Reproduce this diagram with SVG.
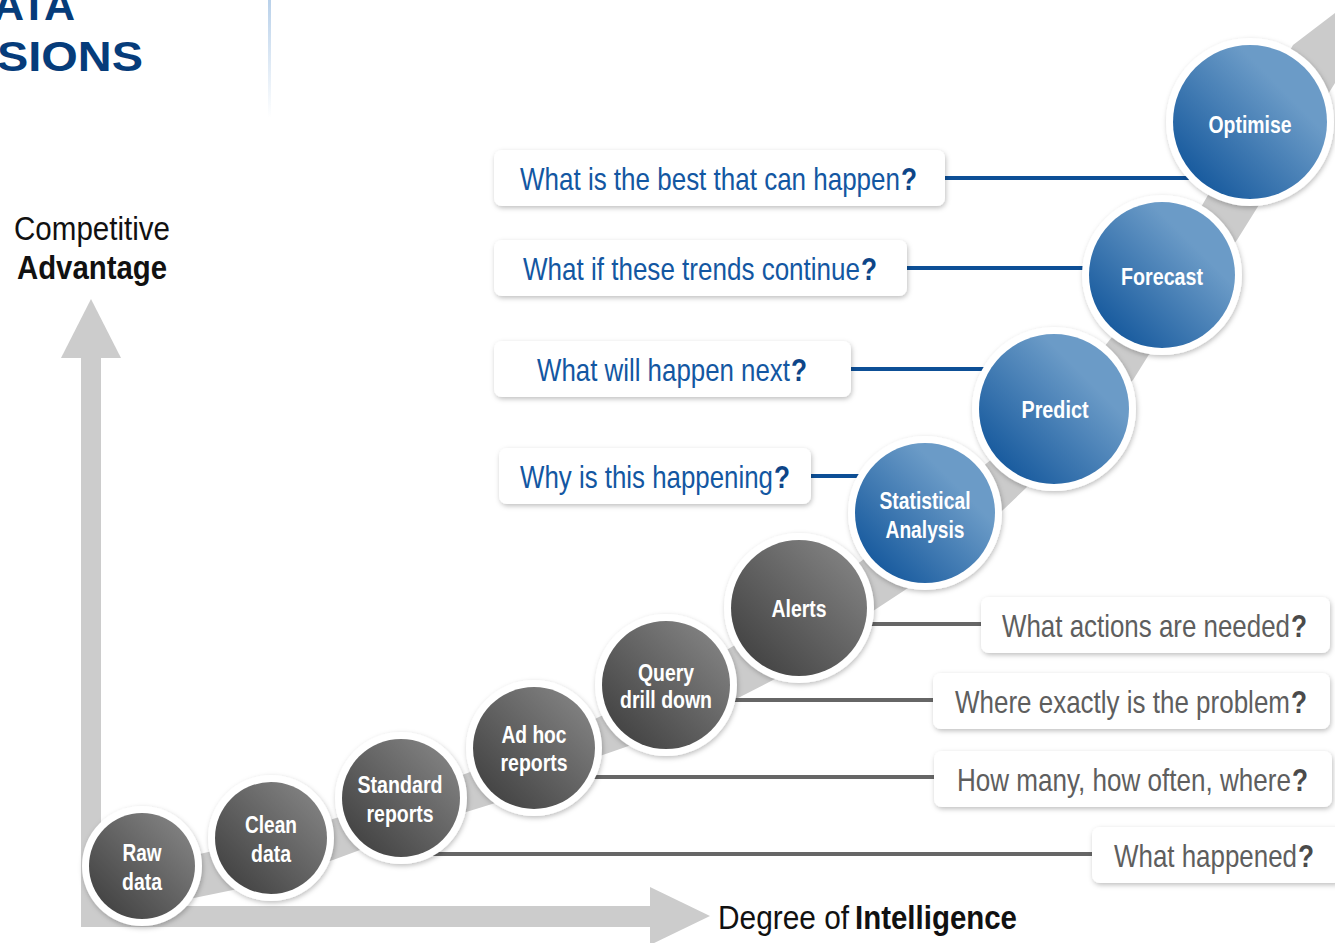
<svg xmlns="http://www.w3.org/2000/svg" width="1335" height="943" viewBox="0 0 1335 943">
<defs>
<linearGradient id="gDark" x1="0.15" y1="0.85" x2="0.85" y2="0.15">
<stop offset="0" stop-color="#464646"/>
<stop offset="1" stop-color="#7e7e7e"/>
</linearGradient>
<linearGradient id="gBlue" x1="0.15" y1="0.85" x2="0.85" y2="0.15">
<stop offset="0" stop-color="#1a5c9f"/>
<stop offset="0.8" stop-color="#6b9bc7"/>
<stop offset="1" stop-color="#6b9bc7"/>
</linearGradient>
<linearGradient id="gDiv" x1="0" y1="0" x2="0" y2="1">
<stop offset="0" stop-color="#b9d1ea"/>
<stop offset="1" stop-color="#ffffff"/>
</linearGradient>
<filter id="sh" x="-20%" y="-20%" width="140%" height="140%">
<feDropShadow dx="1" dy="2" stdDeviation="2.5" flood-color="#000" flood-opacity="0.25"/>
</filter>
<style>
.ring{fill:#fff;filter:url(#sh)}
.dk{fill:url(#gDark)}
.bl{fill:url(#gBlue)}
.ct{font-family:"Liberation Sans",Arial,sans-serif;font-weight:bold;font-size:23px;fill:#fff;text-anchor:middle}
.box{fill:#fff;filter:url(#sh)}
.q{font-family:"Liberation Sans",Arial,sans-serif;font-size:32px}
.qb{fill:#1357a2}
.qg{fill:#5e5e5e}
.qmb{font-weight:bold;fill:#0d4588;text-anchor:end}
.qmg{font-weight:bold;fill:#4a4a4a;text-anchor:end}
.lb{stroke:#0d4f96;stroke-width:4}
.lg{stroke:#666;stroke-width:4}
.ax{fill:#cccccc}
.axt{font-family:"Liberation Sans",Arial,sans-serif;font-size:33px;fill:#111}
</style>
</defs>

<g id="title">
<text x="75" y="20" text-anchor="end" font-family="'Liberation Sans',Arial,sans-serif" font-weight="bold" font-size="43" fill="#063c7a">ATA</text>
<text x="143" y="71" text-anchor="end" font-family="'Liberation Sans',Arial,sans-serif" font-weight="bold" font-size="43" fill="#063c7a" textLength="146" lengthAdjust="spacingAndGlyphs">SIONS</text>
<rect x="268" y="0" width="3" height="118" fill="url(#gDiv)"/>
</g>

<g id="axes">
<rect class="ax" x="81" y="356" width="20" height="571"/>
<polygon class="ax" points="61,358 91,299 121,358"/>
<rect class="ax" x="81" y="906" width="571" height="21"/>
<polygon class="ax" points="650,887 710,916 650,945"/>
<text class="axt" transform="translate(14,240) scale(0.88,1)" textLength="177.3" lengthAdjust="spacingAndGlyphs">Competitive</text>
<text class="axt" transform="translate(17,279) scale(0.88,1)" font-weight="bold" textLength="170.5" lengthAdjust="spacingAndGlyphs">Advantage</text>
<text class="axt" transform="translate(718,929) scale(0.88,1)" textLength="148.9" lengthAdjust="spacingAndGlyphs">Degree of</text>
<text class="axt" transform="translate(855,929) scale(0.88,1)" font-weight="bold" textLength="184.1" lengthAdjust="spacingAndGlyphs">Intelligence</text>
</g>

<g id="band">
<polygon fill="#cbcbcb" points="150,907 233,890 333,860 360,850 463,813 505,800 597,757 640,742 740,697 773,680 870,613 905,590 1003,510 1027,487 1133,380 1153,348 1237,240 1257,208 1335,83 1335,13 1293,45 1250,122 1162,275 1054,409 925,513 799,608 666,685 534,748 401,798 271,838 142,867"/>
</g>

<g id="connectors">
<line class="lb" x1="945" y1="178" x2="1250" y2="178"/>
<line class="lb" x1="907" y1="268" x2="1162" y2="268"/>
<line class="lb" x1="851" y1="369" x2="1054" y2="369"/>
<line class="lb" x1="811" y1="476" x2="925" y2="476"/>
<line class="lg" x1="799" y1="624" x2="981" y2="624"/>
<line class="lg" x1="666" y1="700" x2="933" y2="700"/>
<line class="lg" x1="534" y1="777" x2="934" y2="777"/>
<line class="lg" x1="401" y1="854" x2="1092" y2="854"/>
</g>

<g id="node-raw-data">
<circle class="ring" cx="142" cy="866" r="60"/>
<circle class="dk" cx="142" cy="866" r="53"/>
<text class="ct" transform="translate(142,861) scale(0.84,1)" textLength="46.4" lengthAdjust="spacingAndGlyphs">Raw</text>
<text class="ct" transform="translate(142,890) scale(0.84,1)" textLength="47.6" lengthAdjust="spacingAndGlyphs">data</text>
</g>
<g id="node-clean-data">
<circle class="ring" cx="271" cy="838" r="63"/>
<circle class="dk" cx="271" cy="838" r="56"/>
<text class="ct" transform="translate(271,833) scale(0.84,1)" textLength="61.9" lengthAdjust="spacingAndGlyphs">Clean</text>
<text class="ct" transform="translate(271,862) scale(0.84,1)" textLength="47.6" lengthAdjust="spacingAndGlyphs">data</text>
</g>
<g id="node-standard-reports">
<circle class="ring" cx="401" cy="798" r="66"/>
<circle class="dk" cx="401" cy="798" r="59"/>
<text class="ct" transform="translate(400,793) scale(0.84,1)" textLength="101.2" lengthAdjust="spacingAndGlyphs">Standard</text>
<text class="ct" transform="translate(400,822) scale(0.84,1)" textLength="79.8" lengthAdjust="spacingAndGlyphs">reports</text>
</g>
<g id="node-ad-hoc-reports">
<circle class="ring" cx="534" cy="748" r="68"/>
<circle class="dk" cx="534" cy="748" r="61"/>
<text class="ct" transform="translate(534,743) scale(0.84,1)" textLength="77.4" lengthAdjust="spacingAndGlyphs">Ad hoc</text>
<text class="ct" transform="translate(534,771) scale(0.84,1)" textLength="79.8" lengthAdjust="spacingAndGlyphs">reports</text>
</g>
<g id="node-query-drill-down">
<circle class="ring" cx="666" cy="685" r="71"/>
<circle class="dk" cx="666" cy="685" r="64"/>
<text class="ct" transform="translate(666,681) scale(0.84,1)" textLength="66.7" lengthAdjust="spacingAndGlyphs">Query</text>
<text class="ct" transform="translate(666,708) scale(0.84,1)" textLength="109.5" lengthAdjust="spacingAndGlyphs">drill down</text>
</g>
<g id="node-alerts">
<circle class="ring" cx="799" cy="608" r="75"/>
<circle class="dk" cx="799" cy="608" r="68"/>
<text class="ct" transform="translate(799,617) scale(0.84,1)" textLength="65.5" lengthAdjust="spacingAndGlyphs">Alerts</text>
</g>
<g id="node-statistical-analysis">
<circle class="ring" cx="925" cy="513" r="77"/>
<circle class="bl" cx="925" cy="513" r="70"/>
<text class="ct" transform="translate(925,509) scale(0.84,1)" textLength="108.3" lengthAdjust="spacingAndGlyphs">Statistical</text>
<text class="ct" transform="translate(925,538) scale(0.84,1)" textLength="94" lengthAdjust="spacingAndGlyphs">Analysis</text>
</g>
<g id="node-predict">
<circle class="ring" cx="1054" cy="409" r="82"/>
<circle class="bl" cx="1054" cy="409" r="75"/>
<text class="ct" transform="translate(1055,418) scale(0.84,1)" textLength="79.8" lengthAdjust="spacingAndGlyphs">Predict</text>
</g>
<g id="node-forecast">
<circle class="ring" cx="1162" cy="275" r="80"/>
<circle class="bl" cx="1162" cy="275" r="73"/>
<text class="ct" transform="translate(1162,285) scale(0.84,1)" textLength="97.6" lengthAdjust="spacingAndGlyphs">Forecast</text>
</g>
<g id="node-optimise">
<circle class="ring" cx="1250" cy="122" r="84"/>
<circle class="bl" cx="1250" cy="122" r="77"/>
<text class="ct" transform="translate(1250,133) scale(0.84,1)" textLength="98.8" lengthAdjust="spacingAndGlyphs">Optimise</text>
</g>

<g id="q-best">
<rect class="box" x="494" y="150" width="451" height="56" rx="8"/>
<text class="q qb" transform="translate(520,190) scale(0.82,1)" textLength="463.4" lengthAdjust="spacingAndGlyphs">What is the best that can happen</text>
<text class="q qmb" transform="translate(917,190) scale(0.82,1)">?</text>
</g>
<g id="q-trends">
<rect class="box" x="494" y="240" width="413" height="56" rx="8"/>
<text class="q qb" transform="translate(523,280) scale(0.82,1)" textLength="411" lengthAdjust="spacingAndGlyphs">What if these trends continue</text>
<text class="q qmb" transform="translate(877,280) scale(0.82,1)">?</text>
</g>
<g id="q-next">
<rect class="box" x="494" y="341" width="357" height="56" rx="8"/>
<text class="q qb" transform="translate(537,381) scale(0.82,1)" textLength="308.5" lengthAdjust="spacingAndGlyphs">What will happen next</text>
<text class="q qmb" transform="translate(807,381) scale(0.82,1)">?</text>
</g>
<g id="q-why">
<rect class="box" x="499" y="448" width="312" height="56" rx="8"/>
<text class="q qb" transform="translate(520,488) scale(0.82,1)" textLength="308.5" lengthAdjust="spacingAndGlyphs">Why is this happening</text>
<text class="q qmb" transform="translate(790,488) scale(0.82,1)">?</text>
</g>
<g id="q-actions">
<rect class="box" x="981" y="597" width="349" height="56" rx="8"/>
<text class="q qg" transform="translate(1002,637) scale(0.82,1)" textLength="351.2" lengthAdjust="spacingAndGlyphs">What actions are needed</text>
<text class="q qmg" transform="translate(1307,637) scale(0.82,1)">?</text>
</g>
<g id="q-where">
<rect class="box" x="933" y="673" width="397" height="56" rx="8"/>
<text class="q qg" transform="translate(955,713) scale(0.82,1)" textLength="408.5" lengthAdjust="spacingAndGlyphs">Where exactly is the problem</text>
<text class="q qmg" transform="translate(1307,713) scale(0.82,1)">?</text>
</g>
<g id="q-howmany">
<rect class="box" x="934" y="751" width="398" height="56" rx="8"/>
<text class="q qg" transform="translate(957,791) scale(0.82,1)" textLength="407.3" lengthAdjust="spacingAndGlyphs">How many, how often, where</text>
<text class="q qmg" transform="translate(1308,791) scale(0.82,1)">?</text>
</g>
<g id="q-happened">
<rect class="box" x="1092" y="827" width="250" height="56" rx="8"/>
<text class="q qg" transform="translate(1114,867) scale(0.82,1)" textLength="223.2" lengthAdjust="spacingAndGlyphs">What happened</text>
<text class="q qmg" transform="translate(1314,867) scale(0.82,1)">?</text>
</g>
</svg>
